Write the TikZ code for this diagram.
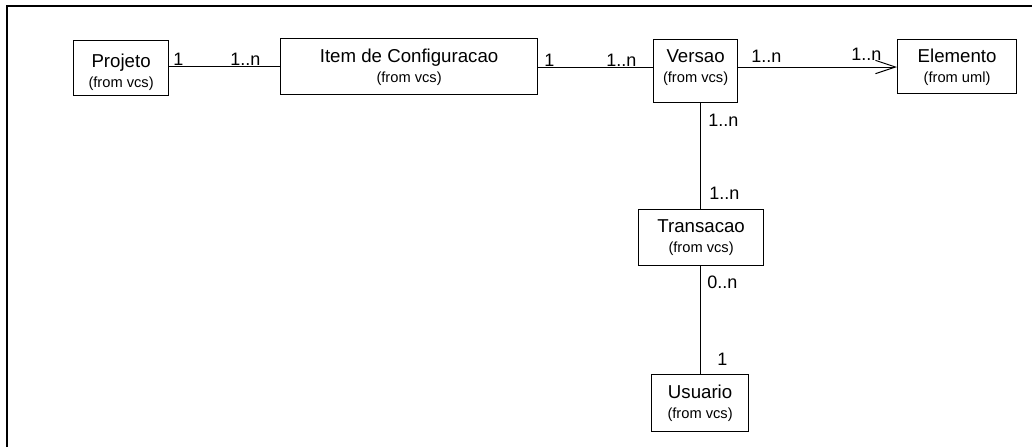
\documentclass[tikz,border=0pt]{standalone}
\usepackage{fontspec}
\setmainfont{Liberation Sans}
\usetikzlibrary{arrows.meta}
\newcommand{\clsnamefont}{\fontsize{14}{15}\selectfont}
\newcommand{\clsfromfont}{\fontsize{11}{12}\selectfont}
\newcommand{\multfont}{\fontsize{13.5}{15}\selectfont}
\begin{document}
\begin{tikzpicture}[x=0.75pt,y=-0.75pt,
  cls/.style={draw, line width=0.9pt, anchor=north west, align=center,
    inner xsep=0pt, inner ysep=0pt, font=\clsnamefont},
  assoc/.style={draw, line width=0.75pt},
  mult/.style={anchor=base west, inner sep=0pt, font=\multfont},
  frameline/.style={draw, line width=1.1pt}]
  \useasboundingbox (0,0) rectangle (1032,447);
  % diagram frame (top and left edges)
  \path[frameline] (7,447) -- (7,6) -- (1032,6);

  % classes (text height/depth measured from the last line's baseline)
  \node[cls, minimum width=71.25pt, text height=35.25pt, text depth=6pt]
    (proj) at (73,40) {Projeto\\{\clsfromfont (from vcs)}};
  \node[cls, minimum width=192.75pt, text height=33pt, text depth=9pt]
    (item) at (280,38) {Item de Configuracao\\{\clsfromfont (from vcs)}};
  \node[cls, minimum width=63pt, text height=32.25pt, text depth=15pt]
    (vers) at (653,39) {Versao\\{\clsfromfont (from vcs)}};
  \node[cls, minimum width=89.25pt, text height=32.25pt, text depth=8.25pt]
    (elem) at (897,39) {Elemento\\{\clsfromfont (from uml)}};
  \node[cls, minimum width=93.75pt, text height=32.25pt, text depth=9.75pt]
    (trans) at (638,209) {Transacao\\{\clsfromfont (from vcs)}};
  \node[cls, minimum width=72.75pt, text height=33pt, text depth=9.75pt]
    (usu) at (651,374) {Usuario\\{\clsfromfont (from vcs)}};

  % associations
  \path[assoc] (proj.east |- 0,66) -- (item.west |- 0,66);
  \path[assoc] (item.east |- 0,67) -- (vers.west |- 0,67);
  \path[assoc, -{Straight Barb[length=15pt, width=10pt]}]
    (vers.east |- 0,67) -- (elem.west |- 0,67);
  \path[assoc] (vers.south -| 700,0) -- (trans.north -| 700,0);
  \path[assoc] (trans.south -| 700,0) -- (usu.north -| 700,0);

  % multiplicities
  \node[mult] (m1) at (173,65) {1};
  \node[mult] (m2) at (230,65) {1..n};
  \node[mult] (m3) at (544,66) {1};
  \node[mult] (m4) at (606,66) {1..n};
  \node[mult] (m5) at (751,62) {1..n};
  \node[mult] (m6) at (851,60) {1..n};
  \node[mult] (m7) at (708,126) {1..n};
  \node[mult] (m8) at (709,199) {1..n};
  \node[mult] (m9) at (707,288) {0..n};
  \node[mult] (m10) at (717,365) {1};
\end{tikzpicture}
\end{document}
